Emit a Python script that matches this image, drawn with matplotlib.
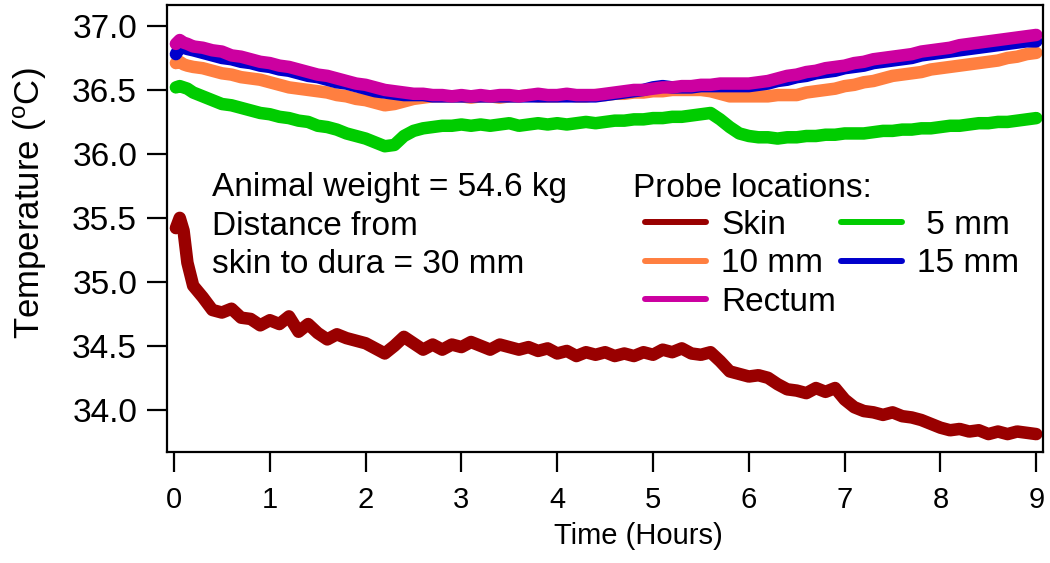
import numpy as np
import matplotlib
matplotlib.use('Agg')
import matplotlib.pyplot as plt
from matplotlib.lines import Line2D

# sampling times (hours)
hours = np.concatenate([[0.02, 0.06, 0.10, 0.14], np.round(np.arange(0.2, 9.01, 0.1), 2)])

skin = [
    35.42, 35.50, 35.40, 35.15, 34.97, 34.88, 34.78, 34.76, 34.79, 34.72, 34.71, 34.66,
    34.70, 34.67, 34.73, 34.61, 34.67, 34.60, 34.55, 34.59, 34.56, 34.54,
    34.52, 34.48, 34.44, 34.50, 34.57, 34.52, 34.47, 34.51, 34.47, 34.51,
    34.49, 34.53, 34.50, 34.47, 34.51, 34.49, 34.47, 34.49, 34.46, 34.48,
    34.44, 34.46, 34.42, 34.45, 34.43, 34.45, 34.42, 34.44, 34.42, 34.45,
    34.43, 34.47, 34.45, 34.48, 34.44, 34.43, 34.45, 34.38, 34.30, 34.28,
    34.26, 34.27, 34.25, 34.20, 34.16, 34.15, 34.13, 34.17, 34.14, 34.17,
    34.08, 34.02, 33.99, 33.98, 33.96, 33.98, 33.95, 33.94, 33.92, 33.89,
    33.86, 33.84, 33.85, 33.83, 33.84, 33.81, 33.83, 33.81, 33.83, 33.82,
    33.81]

mm5 = [
    36.52, 36.53, 36.52, 36.51, 36.48, 36.45, 36.42, 36.39, 36.38, 36.36, 36.34, 36.32,
    36.31, 36.29, 36.28, 36.26, 36.25, 36.22, 36.21, 36.19, 36.16, 36.14,
    36.12, 36.09, 36.06, 36.07, 36.14, 36.18, 36.20, 36.21, 36.22, 36.22,
    36.23, 36.22, 36.23, 36.22, 36.23, 36.24, 36.22, 36.23, 36.24, 36.23,
    36.24, 36.23, 36.24, 36.25, 36.24, 36.25, 36.26, 36.26, 36.27, 36.27,
    36.28, 36.28, 36.29, 36.29, 36.30, 36.31, 36.32, 36.27, 36.21, 36.16,
    36.14, 36.13, 36.13, 36.12, 36.13, 36.13, 36.14, 36.14, 36.15, 36.15,
    36.16, 36.16, 36.16, 36.17, 36.18, 36.18, 36.19, 36.19, 36.20, 36.20,
    36.21, 36.22, 36.22, 36.23, 36.24, 36.24, 36.25, 36.25, 36.26, 36.27,
    36.28]

mm10 = [
    36.71, 36.72, 36.70, 36.69, 36.68, 36.67, 36.65, 36.63, 36.62, 36.60, 36.59, 36.58,
    36.56, 36.54, 36.52, 36.51, 36.50, 36.49, 36.48, 36.46, 36.45, 36.43,
    36.42, 36.40, 36.38, 36.39, 36.41, 36.43, 36.44, 36.45, 36.45, 36.45,
    36.45, 36.44, 36.45, 36.45, 36.44, 36.45, 36.45, 36.46, 36.45, 36.45,
    36.45, 36.46, 36.45, 36.45, 36.46, 36.46, 36.47, 36.47, 36.48, 36.48,
    36.49, 36.49, 36.50, 36.50, 36.50, 36.50, 36.49, 36.47, 36.45, 36.45,
    36.45, 36.45, 36.45, 36.46, 36.46, 36.46, 36.48, 36.49, 36.50, 36.51,
    36.53, 36.54, 36.56, 36.57, 36.59, 36.61, 36.62, 36.63, 36.64, 36.66,
    36.67, 36.68, 36.69, 36.70, 36.71, 36.72, 36.73, 36.75, 36.76, 36.78,
    36.79]

mm15 = [
    36.78, 36.83, 36.83, 36.82, 36.81, 36.79, 36.77, 36.75, 36.74, 36.72, 36.71, 36.69,
    36.68, 36.66, 36.65, 36.63, 36.61, 36.60, 36.58, 36.56, 36.55, 36.53,
    36.51, 36.49, 36.48, 36.47, 36.46, 36.46, 36.46, 36.45, 36.45, 36.45,
    36.45, 36.45, 36.45, 36.45, 36.45, 36.45, 36.45, 36.45, 36.45, 36.45,
    36.45, 36.45, 36.45, 36.45, 36.45, 36.46, 36.47, 36.48, 36.49, 36.50,
    36.52, 36.53, 36.52, 36.52, 36.52, 36.53, 36.53, 36.53, 36.53, 36.53,
    36.53, 36.54, 36.55, 36.57, 36.58, 36.60, 36.61, 36.63, 36.64, 36.65,
    36.67, 36.68, 36.69, 36.71, 36.72, 36.73, 36.74, 36.75, 36.77, 36.78,
    36.79, 36.80, 36.81, 36.82, 36.83, 36.84, 36.85, 36.86, 36.87, 36.88,
    36.88]

rectum = [
    36.86, 36.89, 36.87, 36.86, 36.84, 36.83, 36.81, 36.80, 36.77, 36.76, 36.74, 36.72,
    36.71, 36.69, 36.68, 36.66, 36.64, 36.62, 36.61, 36.59, 36.57, 36.55,
    36.54, 36.52, 36.50, 36.49, 36.48, 36.47, 36.47, 36.46, 36.46, 36.45,
    36.46, 36.45, 36.46, 36.45, 36.46, 36.46, 36.45, 36.46, 36.47, 36.46,
    36.46, 36.47, 36.46, 36.46, 36.46, 36.47, 36.48, 36.49, 36.50, 36.50,
    36.51, 36.52, 36.52, 36.53, 36.53, 36.54, 36.54, 36.55, 36.55, 36.55,
    36.55, 36.56, 36.57, 36.59, 36.61, 36.62, 36.64, 36.65, 36.67, 36.68,
    36.69, 36.71, 36.72, 36.74, 36.75, 36.76, 36.77, 36.78, 36.80, 36.81,
    36.82, 36.83, 36.85, 36.86, 36.87, 36.88, 36.89, 36.90, 36.91, 36.92,
    36.93]

labels = ['Skin', '10 mm', 'Rectum', ' 5 mm', '15 mm']
colors = {'Skin': '#990000', ' 5 mm': '#00CC00', '10 mm': '#FF7F40',
          '15 mm': '#0000CC', 'Rectum': '#CC00A0'}

plt.rcParams['font.family'] = ['Liberation Sans', 'DejaVu Sans']
fs = 24
fs_x = 21

W, H = 1050, 563
fig = plt.figure(figsize=(W / 100, H / 100), dpi=100)
ax = fig.add_axes([167 / W, 1 - 452 / H, (1043 - 167) / W, (452 - 5) / H])

# draw order: rectum on top
series = [('Skin', skin), (' 5 mm', mm5), ('10 mm', mm10), ('15 mm', mm15), ('Rectum', rectum)]
for name, vals in series:
    ax.plot(hours, vals, color=colors[name], lw=9, solid_joinstyle='round',
            solid_capstyle='round')

ax.set_xlim(-0.073, 9.07)
ax.set_ylim(33.67, 37.164)
ax.set_xticks(range(0, 10))
ax.set_yticks([34.0, 34.5, 35.0, 35.5, 36.0, 36.5, 37.0])
ax.set_yticklabels(['34.0', '34.5', '35.0', '35.5', '36.0', '36.5', '37.0'])
for s in ax.spines.values():
    s.set_linewidth(1.6)
ax.tick_params(axis='both', direction='out', length=14.5, width=1.6)
ax.tick_params(axis='y', pad=7, labelsize=fs)
ax.tick_params(axis='x', pad=10, labelsize=fs_x)

fig.text(30 / W, 1 - 203 / H, 'Temperature ($\\mathregular{^o}$C)', rotation=90,
         ha='center', va='center', fontsize=25)
fig.text(638 / W, 1 - 536 / H, 'Time (Hours)', ha='center', va='center', fontsize=fs_x)

# annotation
fig.text(212 / W, 1 - 196 / H, 'Animal weight = 54.6 kg', va='baseline', fontsize=fs)
fig.text(212 / W, 1 - 235 / H, 'Distance from', va='baseline', fontsize=fs)
fig.text(212 / W, 1 - 273 / H, 'skin to dura = 30 mm', va='baseline', fontsize=fs)

# legend
fig.text(633 / W, 1 - 197 / H, 'Probe locations:', va='baseline', fontsize=fs)
handles = [Line2D([], [], color=colors[l], lw=4.3, solid_capstyle='round') for l in labels]
ax.legend(handles, labels, ncol=2, loc='upper left', frameon=False,
          bbox_to_anchor=(645 / W, 1 - 210 / H), bbox_transform=fig.transFigure,
          borderpad=0, borderaxespad=0, handlelength=1.83, handletextpad=0.45,
          columnspacing=0.15, labelspacing=0.22, fontsize=fs)

fig.savefig('out.png', dpi=100)
